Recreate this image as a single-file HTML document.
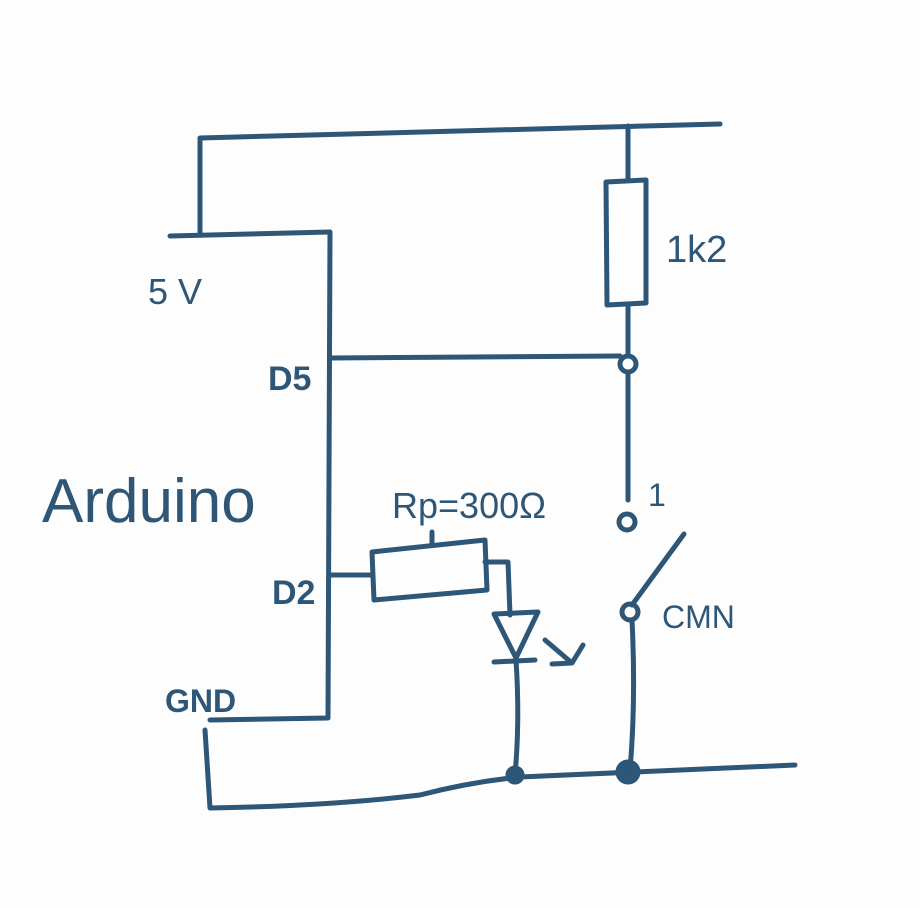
<!DOCTYPE html>
<html><head><meta charset="utf-8"><style>
html,body{margin:0;padding:0;background:#fdfdfd;}
svg{display:block}
text{font-family:"Liberation Sans",sans-serif;fill:#2e5676;}
</style></head><body>
<svg width="920" height="908" viewBox="0 0 920 908" xmlns="http://www.w3.org/2000/svg">
<g fill="none" stroke="#2e5676" stroke-width="5" stroke-linecap="round" stroke-linejoin="round">
<path d="M200 232 L200 138 L720 124"/>
<path d="M170 236 L330 232 L328 718 L210 720"/>
<path d="M205 730 L210 808 Q330 806 420 795 Q470 782 520 777 L795 765"/>
<path d="M628 126 L628 180"/>
<path d="M606 182 L646 180 L646 303 L607 305 Z"/>
<path d="M628 305 L628 355"/>
<circle cx="628" cy="364" r="8"/>
<path d="M330 358 L620 356"/>
<path d="M628 372 L628 500"/>
<circle cx="627" cy="522" r="8"/>
<path d="M632 605 L684 534"/>
<circle cx="630" cy="612" r="8"/>
<path d="M632 620 Q636 700 630 770"/>
<circle cx="628" cy="772" r="10" fill="#2e5676"/>
<path d="M330 575 L372 575"/>
<path d="M372 552 L485 540 L487 590 L374 600 Z"/>
<path d="M432 532 L432 545"/>
<path d="M485 562 L508 562 L510 615"/>
<path d="M494 614 L538 612 L516 658 Z"/>
<path d="M494 662 L535 660"/>
<path d="M545 640 L572 663 M552 664 L572 663 L583 645"/>
<path d="M516 660 Q520 720 515 775"/>
<circle cx="515" cy="775" r="7" fill="#2e5676"/>
</g>
<text x="148" y="304" font-size="36">5 V</text>
<text x="268" y="390" font-size="34" font-weight="bold">D5</text>
<text x="42" y="522" font-size="62">Arduino</text>
<text x="272" y="604" font-size="34" font-weight="bold">D2</text>
<text x="165" y="712" font-size="32" font-weight="bold">GND</text>
<text x="392" y="518" font-size="36">Rp=300Ω</text>
<text x="666" y="262" font-size="38">1k2</text>
<text x="648" y="506" font-size="32">1</text>
<text x="662" y="628" font-size="32">CMN</text>
</svg>
</body></html>
